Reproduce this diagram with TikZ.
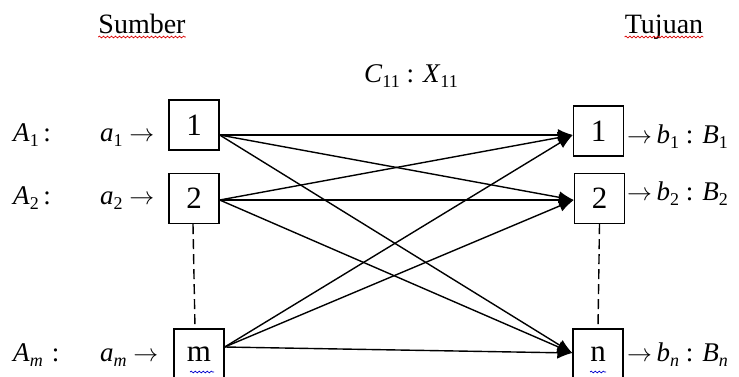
\documentclass[tikz,border=0pt]{standalone}
\usepackage{fontspec}
\setmainfont{Liberation Serif}
\usetikzlibrary{arrows.meta,decorations.pathmorphing}
\newcommand\mi[1]{\textit{#1}}
\newcommand\sbs[1]{\raisebox{-0.22em}{\fontsize{18}{18}\selectfont #1}}
\newcommand\rarr{$\rightarrow$}
\begin{document}
\begin{tikzpicture}[x=1pt,y=-1pt,
  every node/.style={font=\fontsize{27}{30}\selectfont},
  txt/.style={inner sep=0pt, anchor=base west},
  ttl/.style={inner sep=0pt, anchor=base, font=\fontsize{28}{30}\selectfont},
  box/.style={draw, line width=1.4pt, inner sep=0pt, minimum width=50pt, minimum height=50pt, font=\fontsize{31}{32}\selectfont},
  link/.style={line width=1.4pt, -{Latex[length=15pt,width=12pt]}},
  dots/.style={line width=1.4pt, dash pattern=on 10pt off 5pt},
  spellred/.style={red!85!black, line width=0.7pt, decorate, decoration={snake, amplitude=0.9pt, segment length=4pt}},
  spellblue/.style={blue!80!black, line width=0.7pt, decorate, decoration={snake, amplitude=0.9pt, segment length=4pt}}]
\useasboundingbox (0,0) rectangle (739,376);

% titles
\node[ttl] (sumber) at (142,33) {Sumber};
\node[ttl] (tujuan) at (664,33) {Tujuan};
\node[ttl, font=\fontsize{27}{30}\selectfont] (cx) at (411,82) {\mi{C}\sbs{11} : \mi{X}\sbs{11}};
\draw[spellred] ([yshift=-4pt]sumber.base west) -- ([yshift=-4pt]sumber.base east);
\draw[spellred] ([yshift=-4pt]tujuan.base west) -- ([yshift=-4pt]tujuan.base east);

% source boxes
\node[box] (s1) at (194,125) {1};
\node[box] (s2) at (194,198.5) {2};
\node[box] (sm) at (199,354) {m};

% destination boxes
\node[box] (d1) at (598.5,131) {1};
\node[box] (d2) at (599.5,198.5) {2};
\node[box] (dn) at (598,354) {n};

% left labels
\node[txt] (A1) at (13,141) {\mi{A}\sbs{1}\,:};
\node[txt] (a1) at (100,141) {\mi{a}\sbs{1} \rarr};
\node[txt] (A2) at (13,204) {\mi{A}\sbs{2}\,:};
\node[txt] (a2) at (100,204) {\mi{a}\sbs{2} \rarr};
\node[txt] (Am) at (13,361) {\mi{A}\sbs{\mi{m}}\,\,:};
\node[txt] (am) at (100,361) {\mi{a}\sbs{\mi{m}} \rarr};

% right labels
\node[txt] (b1) at (627,143) {\rarr\,\mi{b}\sbs{1} : \mi{B}\sbs{1}};
\node[txt] (b2) at (627,200) {\rarr\,\mi{b}\sbs{2} : \mi{B}\sbs{2}};
\node[txt] (bn) at (627,361) {\rarr\,\mi{b}\sbs{\mi{n}} : \mi{B}\sbs{\mi{n}}};

% dashed continuation lines
\draw[dots] ([xshift=-1pt]s2.south) -- ([xshift=-4pt]sm.north);
\draw[dots] (d2.south) -- (dn.north);

% connectors
\draw[link] ([yshift=-10pt]s1.east) -- ([yshift=-4pt]d1.west);
\draw[link] ([yshift=-10pt]s1.east) -- ([yshift=-1.5pt]d2.west);
\draw[link] ([yshift=-10pt]s1.east) -- ([yshift=1pt]dn.west);
\draw[link] ([yshift=-1.5pt]s2.east) -- ([yshift=-4pt]d1.west);
\draw[link] ([yshift=-1.5pt]s2.east) -- ([yshift=-1.5pt]d2.west);
\draw[link] ([yshift=-1.5pt]s2.east) -- ([yshift=1pt]dn.west);
\draw[link] ([yshift=7pt]sm.east) -- ([yshift=-4pt]d1.west);
\draw[link] ([yshift=7pt]sm.east) -- ([yshift=-1.5pt]d2.west);
\draw[link] ([yshift=7pt]sm.east) -- ([yshift=1pt]dn.west);

% spell-check marks under m and n
\draw[spellblue] (190,372) -- (214,372);
\draw[spellblue] (590,372) -- (606,372);
\end{tikzpicture}
\end{document}
